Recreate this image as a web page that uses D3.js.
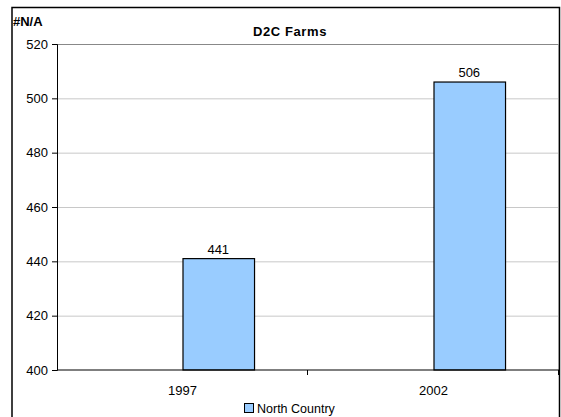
<!DOCTYPE html>
<html>
<head>
<meta charset="utf-8">
<script src="https://cdn.jsdelivr.net/npm/d3@7"></script>
<style>
  body { margin: 0; background: #fff; }
  svg { font-family: "Liberation Sans", Arial, sans-serif; }
</style>
</head>
<body>
<div id="chart"></div>
<script>
// chart data
const years = ['1997', '2002'];
const northCountry = [441, 506];
const yTicks = [400, 420, 440, 460, 480, 500, 520];
const seriesName = 'North Country';

const width = 561, height = 417;
const margin = { top: 44, right: 2, bottom: 47, left: 57 };
const fs = 13;

const svg = d3.select('#chart').append('svg')
    .attr('width', width)
    .attr('height', height);

// outer chart frame (bottom is cut off in the picture)
svg.append('path')
    .attr('d', 'M12,' + height + ' V7.5 H559.5 V' + height)
    .attr('fill', 'none')
    .attr('stroke', '#000')
    .attr('stroke-width', 1.5);

const x = d3.scaleBand()
    .domain(years)
    .range([margin.left, width - margin.right]);

const y = d3.scaleLinear()
    .domain([400, 520])
    .range([height - margin.bottom, margin.top]);

// gridlines
svg.append('g')
    .selectAll('line')
    .data(yTicks.slice(1))
    .enter()
    .append('line')
    .attr('x1', margin.left)
    .attr('x2', width - margin.right)
    .attr('y1', d => y(d) + 0.5)
    .attr('y2', d => y(d) + 0.5)
    .attr('stroke', d => d === 520 ? '#888' : '#c8c8c8')
    .attr('stroke-width', 1);

// right side of plot area
svg.append('line')
    .attr('x1', width - margin.right - 0.5)
    .attr('x2', width - margin.right - 0.5)
    .attr('y1', margin.top)
    .attr('y2', height - margin.bottom)
    .attr('stroke', '#999');

// bars: the series sits in the second half of each category
const barW = x.bandwidth() * 0.285;
svg.append('g')
    .selectAll('rect')
    .data(years)
    .enter()
    .append('rect')
    .attr('x', d => x(d) + x.bandwidth() / 2 + 0.5)
    .attr('y', (d, i) => y(northCountry[i]))
    .attr('width', barW)
    .attr('height', (d, i) => y(400) - y(northCountry[i]))
    .attr('fill', '#99ccff')
    .attr('stroke', '#000')
    .attr('stroke-width', 1.2);

// value labels
svg.append('g')
    .selectAll('text')
    .data(years)
    .enter()
    .append('text')
    .attr('x', d => x(d) + x.bandwidth() / 2 + barW / 2)
    .attr('y', (d, i) => y(northCountry[i]) - 5)
    .attr('text-anchor', 'middle')
    .attr('font-size', fs)
    .text((d, i) => northCountry[i]);

// y axis
const yAxis = svg.append('g')
    .attr('transform', `translate(${margin.left},0)`)
    .call(d3.axisLeft(y).tickValues(yTicks).tickSize(5).tickPadding(4));
yAxis.selectAll('text').attr('font-size', fs).attr('fill', '#000')
    .attr('font-family', '"Liberation Sans", Arial, sans-serif');
yAxis.selectAll('line').attr('stroke', '#000');
yAxis.select('.domain').attr('stroke', '#000');

// x axis with ticks at category boundaries
const xAxisY = y(400);
svg.append('line')
    .attr('x1', margin.left)
    .attr('x2', width - margin.right)
    .attr('y1', xAxisY)
    .attr('y2', xAxisY)
    .attr('stroke', '#000')
    .attr('stroke-width', 1.2);

const bounds = years.map(d => x(d)).concat([x.range()[1]]);
svg.append('g')
    .selectAll('line')
    .data(bounds.slice(1))
    .enter()
    .append('line')
    .attr('x1', d => d - 0.5)
    .attr('x2', d => d - 0.5)
    .attr('y1', xAxisY)
    .attr('y2', xAxisY + 5)
    .attr('stroke', '#000');

svg.append('g')
    .selectAll('text')
    .data(years)
    .enter()
    .append('text')
    .attr('x', d => x(d) + x.bandwidth() / 2)
    .attr('y', xAxisY + 25)
    .attr('text-anchor', 'middle')
    .attr('font-size', fs)
    .text(d => d);

// title
svg.append('text')
    .attr('x', 290)
    .attr('y', 36)
    .attr('text-anchor', 'middle')
    .attr('font-size', 13)
    .attr('font-weight', 'bold')
    .attr('letter-spacing', 0.6)
    .text('D2C Farms');

svg.append('text')
    .attr('x', 13)
    .attr('y', 26)
    .attr('font-size', 13)
    .attr('font-weight', 'bold')
    .text('#N/A');

// legend
const legend = svg.append('g').attr('transform', 'translate(244,403)');
legend.append('rect')
    .attr('x', 0.5)
    .attr('y', 0.5)
    .attr('width', 9)
    .attr('height', 9)
    .attr('fill', '#99ccff')
    .attr('stroke', '#000');
legend.append('text')
    .attr('x', 13)
    .attr('y', 10)
    .attr('font-size', 12.5)
    .text(seriesName);
</script>
</body>
</html>
